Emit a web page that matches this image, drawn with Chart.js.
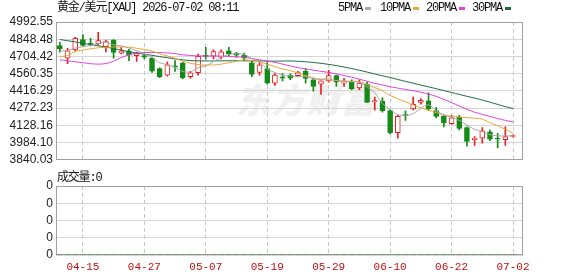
<!DOCTYPE html>
<html>
<head>
<meta charset="utf-8">
<script src="https://cdn.jsdelivr.net/npm/chart.js@4.4.1/dist/chart.umd.min.js"></script>
<style>
  html, body { margin: 0; padding: 0; background: #fff; }
  #wrap { position: relative; width: 578px; height: 276px; overflow: hidden; }
  canvas { position: absolute; left: 0; z-index: 1; }
  .txt { position: absolute; font-family: "Liberation Mono", "Noto Sans CJK SC", monospace; font-size: 12px;
         letter-spacing: -1.2px; color: #111; white-space: nowrap; line-height: 14px; z-index: 2; }
  .mk { position: absolute; width: 6px; height: 3px; z-index: 2; }
  #wm { position: absolute; left: 236px; top: 74px; font-family: "Noto Sans CJK SC"; font-weight: 900;
        font-style: italic; font-size: 34px; color: #f0f0f0; z-index: 0; letter-spacing: 1px; }
</style>
</head>
<body>
<div id="wrap">
  <div id="wm">东方财富</div>
  <div class="txt" id="title" style="left:57px; top:1px;"></div>
  <div class="txt" id="vol" style="left:57px; top:171px;"></div>
  <div id="legend"></div>
  <canvas id="main" width="578" height="170" style="top:0"></canvas>
  <canvas id="volume" width="578" height="106" style="top:170px"></canvas>
</div>
<script>
// 黄金/美元 日K 数据
const dates = ['04-10','04-13','04-14','04-15','04-16','04-17','04-20','04-21','04-22','04-23','04-24','04-27','04-28','04-29','04-30',
  '05-01','05-04','05-05','05-06','05-07','05-08','05-11','05-12','05-13','05-14','05-15','05-18','05-19','05-20','05-21','05-22',
  '05-25','05-26','05-27','05-28','05-29','06-01','06-02','06-03','06-04','06-05','06-08','06-09','06-10','06-11','06-12',
  '06-15','06-16','06-17','06-18','06-19','06-22','06-23','06-24','06-25','06-26','06-29','06-30','07-01','07-02'];
const openP = [4795,4690,4760,4846,4815,4812,4787,4841,4732,4751,4711,4711,4690,4603,4548,4625,4649,4535,4568,4712,
  4706,4698,4751,4733,4716,4651,4570,4603,4481,4535,4548,4544,4581,4508,4473,4500,4544,4481,4494,4441,
  4473,4325,4330,4251,4067,4216,4265,4319,4333,4251,4203,4143,4197,4110,4008,4021,4075,4021,4008,4035];
const highP = [4822,4773,4865,4887,4855,4906,4841,4846,4780,4765,4740,4720,4700,4610,4660,4670,4657,4580,4725,4780,
  4760,4760,4780,4738,4733,4670,4657,4657,4562,4562,4560,4580,4603,4522,4500,4589,4549,4522,4508,4508,
  4489,4365,4360,4257,4211,4250,4365,4353,4400,4278,4211,4211,4211,4116,4035,4110,4089,4062,4116,4048];
const lowP = [4741,4643,4750,4790,4792,4797,4743,4690,4725,4670,4662,4684,4570,4527,4540,4580,4516,4522,4548,4683,
  4683,4683,4711,4698,4670,4535,4548,4473,4463,4500,4510,4540,4481,4414,4386,4489,4454,4454,4427,4427,
  4319,4255,4238,4057,4021,4170,4257,4305,4250,4190,4116,4135,4089,3954,3960,3980,4000,3940,3960,4030];
const closeP = [4768,4751,4855,4797,4808,4838,4828,4738,4752,4716,4730,4698,4581,4535,4635,4615,4527,4568,4706,4705,
  4746,4743,4725,4716,4690,4554,4635,4481,4548,4522,4522,4570,4521,4454,4500,4544,4489,4494,4435,4481,
  4319,4335,4250,4067,4203,4210,4305,4338,4265,4203,4148,4192,4103,3994,4021,4083,4013,4013,4035,4040];

const ma5 = [4750,4755,4775,4785,4796,4810,4825,4802,4793,4774,4753,4727,4695,4652,4636,4613,4579,4576,4610,4624,
  4660,4698,4720,4727,4722,4686,4664,4600,4570,4548,4542,4535,4537,4518,4513,4518,4502,4496,4492,4489,
  4450,4400,4310,4262,4218,4210,4225,4270,4300,4250,4215,4195,4170,4130,4095,4075,4050,4040,4040,4040];
const ma10 = [4700,4712,4745,4758,4768,4777,4781,4783,4784,4783,4773,4762,4750,4726,4708,4690,4664,4648,4636,4632,
  4633,4640,4652,4664,4676,4670,4657,4640,4620,4600,4587,4565,4545,4525,4512,4508,4503,4500,4497,4495,
  4470,4445,4418,4378,4350,4325,4300,4275,4255,4235,4215,4205,4198,4193,4188,4180,4150,4125,4095,4062];
const ma20 = [4676,4668,4660,4652,4644,4640,4645,4665,4695,4718,4732,4737,4738,4737,4734,4728,4718,4713,4709,4708,
  4708,4707,4704,4701,4697,4688,4676,4666,4655,4640,4625,4611,4600,4590,4580,4571,4558,4545,4530,4514,
  4497,4480,4466,4451,4440,4428,4418,4405,4390,4370,4345,4318,4290,4262,4238,4220,4203,4185,4170,4157];
const ma30 = [4846,4836,4826,4814,4804,4793,4783,4770,4757,4744,4733,4723,4714,4703,4694,4684,4676,4670,4668,4667,
  4667,4668,4668,4669,4668,4667,4667,4666,4665,4666,4667,4664,4660,4654,4647,4638,4628,4616,4603,4589,
  4574,4558,4543,4528,4512,4496,4481,4465,4450,4435,4419,4403,4387,4371,4356,4340,4322,4303,4285,4268];
const volumes = new Array(60).fill(0);

const yTickLabels = ['4992.55','4848.48','4704.42','4560.35','4416.29','4272.23','4128.16','3984.10','3840.03'];
const xTickLabels = ['04-15','04-27','05-07','05-19','05-29','06-10','06-22','07-02'];
const volTickLabels = ['0','0','0','0','0'];
const maNames = ['5PMA','10PMA','20PMA','30PMA'];
const maColors = ['#a8a8a8','#e8a935','#e040e0','#1d6b42'];

const UP = '#e81f24';
const DOWN = '#168a16';

document.getElementById('title').textContent = '黄金/美元[XAU] 2026-07-02 08:11';
document.getElementById('vol').textContent = '成交量:0';

// legend
const legendPos = [[338, 365], [380, 413], [426, 459], [472, 505]];
const legend = document.getElementById('legend');
maNames.forEach((n, k) => {
  const t = document.createElement('div');
  t.className = 'txt';
  t.style.left = legendPos[k][0] + 'px';
  t.style.top = '1px';
  t.textContent = n;
  legend.appendChild(t);
  const m = document.createElement('div');
  m.className = 'mk';
  m.style.left = legendPos[k][1] + 'px';
  m.style.top = '7px';
  m.style.background = maColors[k];
  legend.appendChild(m);
});

const yTickVals = yTickLabels.map(parseFloat);
const xTickIdx = xTickLabels.map(l => dates.indexOf(l));
const isUp = dates.map((d, i) => closeP[i] >= openP[i]);

const framePlugin = {
  id: 'frame',
  beforeDatasetsDraw(chart) {
    const { ctx, chartArea: a } = chart;
    ctx.save();
    ctx.strokeStyle = '#a0a0a0';
    ctx.lineWidth = 1;
    ctx.strokeRect(Math.round(a.left) + 0.5, Math.round(a.top) + 0.5,
      Math.round(a.right - a.left) - 1, Math.round(a.bottom - a.top) - 1);
    ctx.restore();
  }
};

function xScale(showLabels) {
  return {
    type: 'linear',
    min: -0.5,
    max: 60.3,
    offset: false,
    afterBuildTicks: s => { s.ticks = xTickIdx.map(v => ({ value: v })); },
    afterFit: s => { s.height = showLabels ? 21 : 1; },
    ticks: {
      display: showLabels,
      autoSkip: false,
      maxRotation: 0,
      padding: 5,
      color: '#c41010',
      font: { family: 'Liberation Mono', size: 11 },
      callback: v => dates[v]
    },
    grid: { color: '#c8c8c8', drawTicks: false, offset: false },
    border: { display: false, dash: [4, 3] }
  };
}

const lineDs = (arr, k) => ({
  type: 'line',
  label: maNames[k],
  data: arr.map((v, i) => ({ x: i, y: v })),
  borderColor: maColors[k],
  borderWidth: 1,
  pointRadius: 0,
  tension: 0.3,
  order: 0
});

new Chart(document.getElementById('main'), {
  type: 'bar',
  data: {
    datasets: [
      lineDs(ma5, 0), lineDs(ma10, 1), lineDs(ma20, 2), lineDs(ma30, 3),
      {
        label: 'body',
        data: dates.map((d, i) => ({ x: i, y: [openP[i], closeP[i]] })),
        backgroundColor: isUp.map(u => u ? '#ffffff' : DOWN),
        borderColor: isUp.map(u => u ? UP : DOWN),
        borderWidth: 1,
        borderSkipped: false,
        barThickness: 5,
        minBarLength: 1,
        grouped: false,
        order: 1
      },
      {
        label: 'wick',
        data: dates.map((d, i) => ({ x: i, y: [lowP[i], highP[i]] })),
        backgroundColor: isUp.map(u => u ? UP : DOWN),
        borderWidth: 0,
        barThickness: 1,
        grouped: false,
        order: 2
      }
    ]
  },
  options: {
    responsive: false,
    animation: false,
    devicePixelRatio: 1,
    layout: { padding: { top: 22, right: 55, bottom: 5, left: 0 } },
    plugins: { legend: { display: false }, tooltip: { enabled: false } },
    scales: {
      x: xScale(false),
      y: {
        min: 3840.03,
        max: 4992.55,
        afterBuildTicks: s => { s.ticks = yTickVals.map(v => ({ value: v })); },
        afterFit: s => { s.width = 56; },
        ticks: {
          autoSkip: false,
          padding: 3,
          color: '#222',
          font: { family: 'Liberation Sans', size: 12 },
          callback: v => v.toFixed(2)
        },
        grid: { color: '#d6d6d6', drawTicks: false },
        border: { display: false }
      }
    }
  },
  plugins: [framePlugin]
});

new Chart(document.getElementById('volume'), {
  type: 'bar',
  data: {
    datasets: [{
      label: '成交量',
      data: volumes.map((v, i) => ({ x: i, y: v })),
      backgroundColor: DOWN,
      barThickness: 5
    }]
  },
  options: {
    responsive: false,
    animation: false,
    devicePixelRatio: 1,
    layout: { padding: { top: 16, right: 55, bottom: 0, left: 0 } },
    plugins: { legend: { display: false }, tooltip: { enabled: false } },
    scales: {
      x: xScale(true),
      y: {
        min: 0,
        max: 4,
        afterBuildTicks: s => { s.ticks = volTickLabels.map((l, k) => ({ value: k })); },
        afterFit: s => { s.width = 56; },
        ticks: {
          autoSkip: false,
          padding: 3,
          color: '#222',
          font: { family: 'Liberation Sans', size: 12 },
          callback: (v, k) => volTickLabels[k]
        },
        grid: { color: '#d6d6d6', drawTicks: false },
        border: { display: false }
      }
    }
  },
  plugins: [framePlugin]
});
</script>
</body>
</html>
